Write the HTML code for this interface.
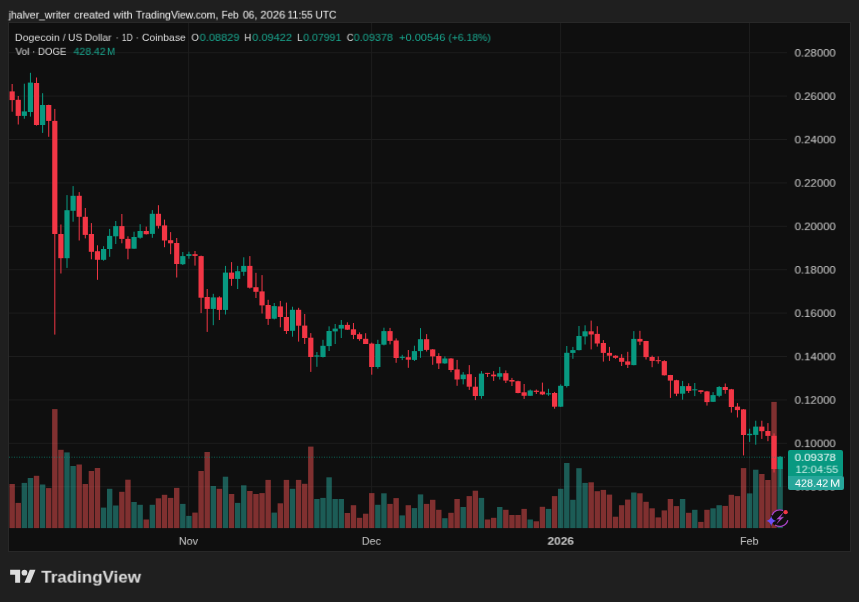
<!DOCTYPE html>
<html><head><meta charset="utf-8"><title>DOGEUSD chart</title>
<style>
html,body{margin:0;padding:0;}
body{width:859px;height:602px;background:#1f1f1f;overflow:hidden;position:relative;font-family:"Liberation Sans",sans-serif;}
.abs{position:absolute;white-space:nowrap;line-height:1;}
.tt{will-change:transform;transform-origin:0 0;}
#chart{position:absolute;left:8px;top:22px;width:841px;height:528px;background:#0f0f0f;border:1px solid #282828;box-sizing:content-box;}
svg#plot{position:absolute;left:0;top:0;}
</style></head><body>
<div id="chart"></div>
<svg id="plot" width="859" height="602" viewBox="0 0 859 602">
<rect x="9" y="52.20" width="778" height="1" fill="#1d1d1d"/>
<rect x="9" y="95.60" width="778" height="1" fill="#1d1d1d"/>
<rect x="9" y="139.00" width="778" height="1" fill="#1d1d1d"/>
<rect x="9" y="182.40" width="778" height="1" fill="#1d1d1d"/>
<rect x="9" y="225.80" width="778" height="1" fill="#1d1d1d"/>
<rect x="9" y="269.20" width="778" height="1" fill="#1d1d1d"/>
<rect x="9" y="312.60" width="778" height="1" fill="#1d1d1d"/>
<rect x="9" y="356.00" width="778" height="1" fill="#1d1d1d"/>
<rect x="9" y="399.40" width="778" height="1" fill="#1d1d1d"/>
<rect x="9" y="442.80" width="778" height="1" fill="#1d1d1d"/>
<rect x="9" y="486.20" width="778" height="1" fill="#1d1d1d"/>
<rect x="188.10" y="23" width="1" height="505" fill="#1d1d1d"/>
<rect x="371.10" y="23" width="1" height="505" fill="#1d1d1d"/>
<rect x="560.10" y="23" width="1" height="505" fill="#1d1d1d"/>
<rect x="749.00" y="23" width="1" height="505" fill="#1d1d1d"/>
<rect x="9.45" y="484.0" width="5.4" height="44.1" fill="rgba(241,81,81,0.5)"/>
<rect x="15.55" y="502.9" width="5.4" height="25.2" fill="rgba(241,81,81,0.5)"/>
<rect x="21.64" y="482.9" width="5.4" height="45.2" fill="rgba(41,169,157,0.5)"/>
<rect x="27.74" y="478.0" width="5.4" height="50.1" fill="rgba(41,169,157,0.5)"/>
<rect x="33.83" y="475.8" width="5.4" height="52.3" fill="rgba(241,81,81,0.5)"/>
<rect x="39.92" y="484.5" width="5.4" height="43.6" fill="rgba(41,169,157,0.5)"/>
<rect x="46.02" y="488.1" width="5.4" height="40.0" fill="rgba(241,81,81,0.5)"/>
<rect x="52.11" y="409.1" width="5.4" height="119.0" fill="rgba(241,81,81,0.5)"/>
<rect x="58.21" y="449.8" width="5.4" height="78.3" fill="rgba(241,81,81,0.5)"/>
<rect x="64.30" y="452.4" width="5.4" height="75.7" fill="rgba(41,169,157,0.5)"/>
<rect x="70.40" y="466.0" width="5.4" height="62.1" fill="rgba(41,169,157,0.5)"/>
<rect x="76.50" y="464.5" width="5.4" height="63.6" fill="rgba(241,81,81,0.5)"/>
<rect x="82.59" y="484.0" width="5.4" height="44.1" fill="rgba(241,81,81,0.5)"/>
<rect x="88.69" y="471.0" width="5.4" height="57.1" fill="rgba(241,81,81,0.5)"/>
<rect x="94.78" y="468.0" width="5.4" height="60.1" fill="rgba(241,81,81,0.5)"/>
<rect x="100.88" y="507.6" width="5.4" height="20.5" fill="rgba(41,169,157,0.5)"/>
<rect x="106.97" y="488.8" width="5.4" height="39.3" fill="rgba(41,169,157,0.5)"/>
<rect x="113.06" y="505.5" width="5.4" height="22.6" fill="rgba(41,169,157,0.5)"/>
<rect x="119.16" y="491.8" width="5.4" height="36.3" fill="rgba(241,81,81,0.5)"/>
<rect x="125.25" y="479.7" width="5.4" height="48.4" fill="rgba(241,81,81,0.5)"/>
<rect x="131.35" y="502.0" width="5.4" height="26.1" fill="rgba(41,169,157,0.5)"/>
<rect x="137.44" y="504.8" width="5.4" height="23.3" fill="rgba(41,169,157,0.5)"/>
<rect x="143.54" y="519.5" width="5.4" height="8.6" fill="rgba(241,81,81,0.5)"/>
<rect x="149.64" y="504.8" width="5.4" height="23.3" fill="rgba(41,169,157,0.5)"/>
<rect x="155.73" y="498.3" width="5.4" height="29.8" fill="rgba(241,81,81,0.5)"/>
<rect x="161.83" y="494.8" width="5.4" height="33.3" fill="rgba(241,81,81,0.5)"/>
<rect x="167.92" y="497.9" width="5.4" height="30.2" fill="rgba(241,81,81,0.5)"/>
<rect x="174.02" y="487.9" width="5.4" height="40.2" fill="rgba(241,81,81,0.5)"/>
<rect x="180.11" y="503.9" width="5.4" height="24.2" fill="rgba(41,169,157,0.5)"/>
<rect x="186.21" y="515.9" width="5.4" height="12.2" fill="rgba(41,169,157,0.5)"/>
<rect x="192.30" y="512.6" width="5.4" height="15.5" fill="rgba(241,81,81,0.5)"/>
<rect x="198.40" y="471.0" width="5.4" height="57.1" fill="rgba(241,81,81,0.5)"/>
<rect x="204.49" y="452.0" width="5.4" height="76.1" fill="rgba(241,81,81,0.5)"/>
<rect x="210.59" y="486.0" width="5.4" height="42.1" fill="rgba(41,169,157,0.5)"/>
<rect x="216.68" y="488.8" width="5.4" height="39.3" fill="rgba(241,81,81,0.5)"/>
<rect x="222.78" y="476.7" width="5.4" height="51.4" fill="rgba(41,169,157,0.5)"/>
<rect x="228.87" y="494.0" width="5.4" height="34.1" fill="rgba(241,81,81,0.5)"/>
<rect x="234.97" y="502.9" width="5.4" height="25.2" fill="rgba(41,169,157,0.5)"/>
<rect x="241.06" y="485.3" width="5.4" height="42.8" fill="rgba(41,169,157,0.5)"/>
<rect x="247.16" y="491.0" width="5.4" height="37.1" fill="rgba(241,81,81,0.5)"/>
<rect x="253.25" y="494.0" width="5.4" height="34.1" fill="rgba(241,81,81,0.5)"/>
<rect x="259.34" y="493.1" width="5.4" height="35.0" fill="rgba(241,81,81,0.5)"/>
<rect x="265.44" y="479.9" width="5.4" height="48.2" fill="rgba(241,81,81,0.5)"/>
<rect x="271.53" y="512.6" width="5.4" height="15.5" fill="rgba(41,169,157,0.5)"/>
<rect x="277.63" y="503.3" width="5.4" height="24.8" fill="rgba(241,81,81,0.5)"/>
<rect x="283.72" y="479.9" width="5.4" height="48.2" fill="rgba(241,81,81,0.5)"/>
<rect x="289.82" y="488.8" width="5.4" height="39.3" fill="rgba(41,169,157,0.5)"/>
<rect x="295.91" y="479.9" width="5.4" height="48.2" fill="rgba(241,81,81,0.5)"/>
<rect x="302.01" y="483.8" width="5.4" height="44.3" fill="rgba(241,81,81,0.5)"/>
<rect x="308.10" y="446.6" width="5.4" height="81.5" fill="rgba(241,81,81,0.5)"/>
<rect x="314.20" y="499.0" width="5.4" height="29.1" fill="rgba(41,169,157,0.5)"/>
<rect x="320.29" y="497.9" width="5.4" height="30.2" fill="rgba(41,169,157,0.5)"/>
<rect x="326.39" y="477.3" width="5.4" height="50.8" fill="rgba(41,169,157,0.5)"/>
<rect x="332.48" y="499.0" width="5.4" height="29.1" fill="rgba(41,169,157,0.5)"/>
<rect x="338.58" y="499.0" width="5.4" height="29.1" fill="rgba(41,169,157,0.5)"/>
<rect x="344.67" y="513.0" width="5.4" height="15.1" fill="rgba(241,81,81,0.5)"/>
<rect x="350.77" y="505.2" width="5.4" height="22.9" fill="rgba(241,81,81,0.5)"/>
<rect x="356.86" y="517.8" width="5.4" height="10.3" fill="rgba(241,81,81,0.5)"/>
<rect x="362.96" y="513.7" width="5.4" height="14.4" fill="rgba(241,81,81,0.5)"/>
<rect x="369.05" y="493.1" width="5.4" height="35.0" fill="rgba(241,81,81,0.5)"/>
<rect x="375.15" y="504.8" width="5.4" height="23.3" fill="rgba(41,169,157,0.5)"/>
<rect x="381.24" y="493.3" width="5.4" height="34.8" fill="rgba(41,169,157,0.5)"/>
<rect x="387.34" y="503.9" width="5.4" height="24.2" fill="rgba(241,81,81,0.5)"/>
<rect x="393.43" y="498.1" width="5.4" height="30.0" fill="rgba(241,81,81,0.5)"/>
<rect x="399.53" y="515.4" width="5.4" height="12.7" fill="rgba(41,169,157,0.5)"/>
<rect x="405.62" y="505.2" width="5.4" height="22.9" fill="rgba(241,81,81,0.5)"/>
<rect x="411.72" y="508.1" width="5.4" height="20.0" fill="rgba(41,169,157,0.5)"/>
<rect x="417.81" y="494.4" width="5.4" height="33.7" fill="rgba(41,169,157,0.5)"/>
<rect x="423.91" y="503.9" width="5.4" height="24.2" fill="rgba(241,81,81,0.5)"/>
<rect x="430.00" y="499.8" width="5.4" height="28.3" fill="rgba(241,81,81,0.5)"/>
<rect x="436.10" y="509.8" width="5.4" height="18.3" fill="rgba(241,81,81,0.5)"/>
<rect x="442.19" y="518.2" width="5.4" height="9.9" fill="rgba(41,169,157,0.5)"/>
<rect x="448.29" y="512.8" width="5.4" height="15.3" fill="rgba(241,81,81,0.5)"/>
<rect x="454.38" y="499.0" width="5.4" height="29.1" fill="rgba(241,81,81,0.5)"/>
<rect x="460.48" y="507.0" width="5.4" height="21.1" fill="rgba(41,169,157,0.5)"/>
<rect x="466.57" y="496.1" width="5.4" height="32.0" fill="rgba(241,81,81,0.5)"/>
<rect x="472.67" y="490.7" width="5.4" height="37.4" fill="rgba(241,81,81,0.5)"/>
<rect x="478.76" y="497.9" width="5.4" height="30.2" fill="rgba(41,169,157,0.5)"/>
<rect x="484.86" y="519.5" width="5.4" height="8.6" fill="rgba(241,81,81,0.5)"/>
<rect x="490.95" y="517.8" width="5.4" height="10.3" fill="rgba(241,81,81,0.5)"/>
<rect x="497.05" y="507.0" width="5.4" height="21.1" fill="rgba(41,169,157,0.5)"/>
<rect x="503.14" y="509.8" width="5.4" height="18.3" fill="rgba(241,81,81,0.5)"/>
<rect x="509.24" y="515.0" width="5.4" height="13.1" fill="rgba(241,81,81,0.5)"/>
<rect x="515.33" y="515.0" width="5.4" height="13.1" fill="rgba(241,81,81,0.5)"/>
<rect x="521.43" y="508.9" width="5.4" height="19.2" fill="rgba(241,81,81,0.5)"/>
<rect x="527.52" y="519.5" width="5.4" height="8.6" fill="rgba(41,169,157,0.5)"/>
<rect x="533.62" y="521.3" width="5.4" height="6.8" fill="rgba(241,81,81,0.5)"/>
<rect x="539.71" y="506.8" width="5.4" height="21.3" fill="rgba(241,81,81,0.5)"/>
<rect x="545.81" y="508.9" width="5.4" height="19.2" fill="rgba(41,169,157,0.5)"/>
<rect x="551.90" y="496.1" width="5.4" height="32.0" fill="rgba(241,81,81,0.5)"/>
<rect x="558.00" y="488.8" width="5.4" height="39.3" fill="rgba(41,169,157,0.5)"/>
<rect x="564.09" y="463.0" width="5.4" height="65.1" fill="rgba(41,169,157,0.5)"/>
<rect x="570.19" y="499.8" width="5.4" height="28.3" fill="rgba(41,169,157,0.5)"/>
<rect x="576.28" y="468.2" width="5.4" height="59.9" fill="rgba(41,169,157,0.5)"/>
<rect x="582.38" y="482.9" width="5.4" height="45.2" fill="rgba(41,169,157,0.5)"/>
<rect x="588.47" y="482.3" width="5.4" height="45.8" fill="rgba(241,81,81,0.5)"/>
<rect x="594.57" y="491.2" width="5.4" height="36.9" fill="rgba(241,81,81,0.5)"/>
<rect x="600.66" y="489.9" width="5.4" height="38.2" fill="rgba(241,81,81,0.5)"/>
<rect x="606.76" y="494.6" width="5.4" height="33.5" fill="rgba(241,81,81,0.5)"/>
<rect x="612.85" y="516.7" width="5.4" height="11.4" fill="rgba(241,81,81,0.5)"/>
<rect x="618.95" y="505.2" width="5.4" height="22.9" fill="rgba(241,81,81,0.5)"/>
<rect x="625.04" y="499.6" width="5.4" height="28.5" fill="rgba(241,81,81,0.5)"/>
<rect x="631.14" y="492.5" width="5.4" height="35.6" fill="rgba(41,169,157,0.5)"/>
<rect x="637.23" y="493.3" width="5.4" height="34.8" fill="rgba(241,81,81,0.5)"/>
<rect x="643.33" y="501.8" width="5.4" height="26.3" fill="rgba(241,81,81,0.5)"/>
<rect x="649.42" y="508.3" width="5.4" height="19.8" fill="rgba(241,81,81,0.5)"/>
<rect x="655.52" y="517.4" width="5.4" height="10.7" fill="rgba(241,81,81,0.5)"/>
<rect x="661.61" y="510.4" width="5.4" height="17.7" fill="rgba(241,81,81,0.5)"/>
<rect x="667.71" y="499.0" width="5.4" height="29.1" fill="rgba(241,81,81,0.5)"/>
<rect x="673.80" y="506.1" width="5.4" height="22.0" fill="rgba(241,81,81,0.5)"/>
<rect x="679.90" y="499.0" width="5.4" height="29.1" fill="rgba(41,169,157,0.5)"/>
<rect x="685.99" y="512.8" width="5.4" height="15.3" fill="rgba(241,81,81,0.5)"/>
<rect x="692.09" y="509.8" width="5.4" height="18.3" fill="rgba(41,169,157,0.5)"/>
<rect x="698.18" y="521.9" width="5.4" height="6.2" fill="rgba(241,81,81,0.5)"/>
<rect x="704.28" y="509.8" width="5.4" height="18.3" fill="rgba(241,81,81,0.5)"/>
<rect x="710.37" y="508.3" width="5.4" height="19.8" fill="rgba(41,169,157,0.5)"/>
<rect x="716.47" y="505.2" width="5.4" height="22.9" fill="rgba(41,169,157,0.5)"/>
<rect x="722.56" y="505.9" width="5.4" height="22.2" fill="rgba(241,81,81,0.5)"/>
<rect x="728.66" y="494.8" width="5.4" height="33.3" fill="rgba(241,81,81,0.5)"/>
<rect x="734.75" y="496.1" width="5.4" height="32.0" fill="rgba(241,81,81,0.5)"/>
<rect x="740.85" y="468.1" width="5.4" height="60.0" fill="rgba(241,81,81,0.5)"/>
<rect x="746.94" y="493.4" width="5.4" height="34.7" fill="rgba(41,169,157,0.5)"/>
<rect x="753.04" y="469.7" width="5.4" height="58.4" fill="rgba(41,169,157,0.5)"/>
<rect x="759.13" y="474.0" width="5.4" height="54.1" fill="rgba(241,81,81,0.5)"/>
<rect x="765.23" y="480.0" width="5.4" height="48.1" fill="rgba(241,81,81,0.5)"/>
<rect x="771.32" y="401.9" width="5.4" height="126.2" fill="rgba(241,81,81,0.5)"/>
<rect x="777.42" y="456.6" width="5.4" height="71.5" fill="rgba(41,169,157,0.5)"/>
<rect x="11.65" y="84.0" width="1" height="27.7" fill="#f23645"/>
<rect x="9.55" y="91.4" width="5.2" height="8.7" fill="#f23645"/>
<rect x="17.75" y="96.0" width="1" height="28.5" fill="#f23645"/>
<rect x="15.65" y="99.8" width="5.2" height="16.1" fill="#f23645"/>
<rect x="23.84" y="83.7" width="1" height="35.0" fill="#089981"/>
<rect x="21.74" y="111.4" width="5.2" height="4.5" fill="#089981"/>
<rect x="29.94" y="72.8" width="1" height="43.8" fill="#089981"/>
<rect x="27.84" y="82.6" width="5.2" height="29.4" fill="#089981"/>
<rect x="36.03" y="77.5" width="1" height="48.1" fill="#f23645"/>
<rect x="33.93" y="83.0" width="5.2" height="42.0" fill="#f23645"/>
<rect x="42.12" y="93.2" width="1" height="39.7" fill="#089981"/>
<rect x="40.02" y="105.0" width="5.2" height="20.0" fill="#089981"/>
<rect x="48.22" y="104.7" width="1" height="32.1" fill="#f23645"/>
<rect x="46.12" y="105.0" width="5.2" height="15.9" fill="#f23645"/>
<rect x="54.31" y="108.9" width="1" height="225.7" fill="#f23645"/>
<rect x="52.21" y="120.9" width="5.2" height="113.1" fill="#f23645"/>
<rect x="60.41" y="224.5" width="1" height="49.0" fill="#f23645"/>
<rect x="58.31" y="234.0" width="5.2" height="24.2" fill="#f23645"/>
<rect x="66.50" y="195.1" width="1" height="72.8" fill="#089981"/>
<rect x="64.41" y="210.2" width="5.2" height="48.0" fill="#089981"/>
<rect x="72.60" y="186.1" width="1" height="35.6" fill="#089981"/>
<rect x="70.50" y="195.8" width="5.2" height="15.0" fill="#089981"/>
<rect x="78.70" y="192.1" width="1" height="48.4" fill="#f23645"/>
<rect x="76.60" y="195.8" width="5.2" height="21.0" fill="#f23645"/>
<rect x="84.79" y="208.0" width="1" height="30.4" fill="#f23645"/>
<rect x="82.69" y="216.8" width="5.2" height="18.1" fill="#f23645"/>
<rect x="90.89" y="223.1" width="1" height="36.2" fill="#f23645"/>
<rect x="88.79" y="234.0" width="5.2" height="17.8" fill="#f23645"/>
<rect x="96.98" y="245.3" width="1" height="34.5" fill="#f23645"/>
<rect x="94.88" y="251.2" width="5.2" height="8.6" fill="#f23645"/>
<rect x="103.08" y="246.2" width="1" height="14.5" fill="#089981"/>
<rect x="100.98" y="249.0" width="5.2" height="10.8" fill="#089981"/>
<rect x="109.17" y="228.9" width="1" height="27.9" fill="#089981"/>
<rect x="107.07" y="235.9" width="5.2" height="13.1" fill="#089981"/>
<rect x="115.27" y="221.0" width="1" height="23.0" fill="#089981"/>
<rect x="113.17" y="226.1" width="5.2" height="10.2" fill="#089981"/>
<rect x="121.36" y="214.0" width="1" height="29.3" fill="#f23645"/>
<rect x="119.26" y="226.1" width="5.2" height="12.8" fill="#f23645"/>
<rect x="127.45" y="236.3" width="1" height="23.0" fill="#f23645"/>
<rect x="125.36" y="238.9" width="5.2" height="9.8" fill="#f23645"/>
<rect x="133.55" y="231.7" width="1" height="17.0" fill="#089981"/>
<rect x="131.45" y="237.0" width="5.2" height="11.7" fill="#089981"/>
<rect x="139.64" y="224.2" width="1" height="14.5" fill="#089981"/>
<rect x="137.54" y="231.0" width="5.2" height="6.7" fill="#089981"/>
<rect x="145.74" y="226.6" width="1" height="7.9" fill="#f23645"/>
<rect x="143.64" y="231.0" width="5.2" height="3.2" fill="#f23645"/>
<rect x="151.84" y="210.1" width="1" height="27.7" fill="#089981"/>
<rect x="149.74" y="213.8" width="5.2" height="20.1" fill="#089981"/>
<rect x="157.93" y="205.2" width="1" height="23.3" fill="#f23645"/>
<rect x="155.83" y="213.8" width="5.2" height="12.0" fill="#f23645"/>
<rect x="164.03" y="219.6" width="1" height="27.6" fill="#f23645"/>
<rect x="161.93" y="225.4" width="5.2" height="15.1" fill="#f23645"/>
<rect x="170.12" y="232.1" width="1" height="22.1" fill="#f23645"/>
<rect x="168.02" y="240.2" width="5.2" height="3.1" fill="#f23645"/>
<rect x="176.22" y="238.0" width="1" height="39.5" fill="#f23645"/>
<rect x="174.12" y="243.0" width="5.2" height="21.0" fill="#f23645"/>
<rect x="182.31" y="252.0" width="1" height="13.0" fill="#089981"/>
<rect x="180.21" y="256.1" width="5.2" height="8.1" fill="#089981"/>
<rect x="188.41" y="251.7" width="1" height="7.0" fill="#089981"/>
<rect x="186.31" y="254.2" width="5.2" height="1.7" fill="#089981"/>
<rect x="194.50" y="251.0" width="1" height="14.6" fill="#f23645"/>
<rect x="192.40" y="254.2" width="5.2" height="1.7" fill="#f23645"/>
<rect x="200.59" y="255.6" width="1" height="57.5" fill="#f23645"/>
<rect x="198.50" y="256.1" width="5.2" height="41.6" fill="#f23645"/>
<rect x="206.69" y="289.0" width="1" height="42.9" fill="#f23645"/>
<rect x="204.59" y="297.0" width="5.2" height="11.9" fill="#f23645"/>
<rect x="212.78" y="293.8" width="1" height="31.4" fill="#089981"/>
<rect x="210.69" y="297.4" width="5.2" height="11.5" fill="#089981"/>
<rect x="218.88" y="296.3" width="1" height="23.7" fill="#f23645"/>
<rect x="216.78" y="297.4" width="5.2" height="12.5" fill="#f23645"/>
<rect x="224.97" y="265.9" width="1" height="48.6" fill="#089981"/>
<rect x="222.88" y="272.6" width="5.2" height="37.3" fill="#089981"/>
<rect x="231.07" y="262.1" width="1" height="23.7" fill="#f23645"/>
<rect x="228.97" y="272.6" width="5.2" height="6.3" fill="#f23645"/>
<rect x="237.16" y="265.9" width="1" height="23.1" fill="#089981"/>
<rect x="235.06" y="271.2" width="5.2" height="7.7" fill="#089981"/>
<rect x="243.26" y="257.3" width="1" height="18.5" fill="#089981"/>
<rect x="241.16" y="265.9" width="5.2" height="5.9" fill="#089981"/>
<rect x="249.35" y="256.1" width="1" height="32.5" fill="#f23645"/>
<rect x="247.25" y="265.9" width="5.2" height="21.8" fill="#f23645"/>
<rect x="255.45" y="272.8" width="1" height="25.2" fill="#f23645"/>
<rect x="253.35" y="287.2" width="5.2" height="4.6" fill="#f23645"/>
<rect x="261.54" y="275.1" width="1" height="38.4" fill="#f23645"/>
<rect x="259.44" y="291.4" width="5.2" height="14.0" fill="#f23645"/>
<rect x="267.64" y="299.8" width="1" height="25.1" fill="#f23645"/>
<rect x="265.54" y="305.0" width="5.2" height="13.9" fill="#f23645"/>
<rect x="273.73" y="303.0" width="1" height="16.4" fill="#089981"/>
<rect x="271.63" y="306.1" width="5.2" height="12.6" fill="#089981"/>
<rect x="279.83" y="300.9" width="1" height="26.4" fill="#f23645"/>
<rect x="277.73" y="306.4" width="5.2" height="10.6" fill="#f23645"/>
<rect x="285.92" y="302.6" width="1" height="31.4" fill="#f23645"/>
<rect x="283.82" y="317.0" width="5.2" height="14.0" fill="#f23645"/>
<rect x="292.02" y="306.7" width="1" height="30.0" fill="#089981"/>
<rect x="289.92" y="309.8" width="5.2" height="21.0" fill="#089981"/>
<rect x="298.11" y="307.8" width="1" height="33.8" fill="#f23645"/>
<rect x="296.01" y="309.8" width="5.2" height="15.9" fill="#f23645"/>
<rect x="304.21" y="314.0" width="1" height="30.0" fill="#f23645"/>
<rect x="302.11" y="325.6" width="5.2" height="12.4" fill="#f23645"/>
<rect x="310.30" y="333.1" width="1" height="38.8" fill="#f23645"/>
<rect x="308.20" y="337.7" width="5.2" height="19.3" fill="#f23645"/>
<rect x="316.40" y="352.0" width="1" height="14.8" fill="#089981"/>
<rect x="314.30" y="355.4" width="5.2" height="1.2" fill="#089981"/>
<rect x="322.49" y="339.8" width="1" height="17.7" fill="#089981"/>
<rect x="320.39" y="345.8" width="5.2" height="11.2" fill="#089981"/>
<rect x="328.59" y="326.3" width="1" height="24.7" fill="#089981"/>
<rect x="326.49" y="331.0" width="5.2" height="15.1" fill="#089981"/>
<rect x="334.68" y="324.0" width="1" height="20.0" fill="#089981"/>
<rect x="332.58" y="328.6" width="5.2" height="2.8" fill="#089981"/>
<rect x="340.78" y="320.0" width="1" height="18.0" fill="#089981"/>
<rect x="338.68" y="324.9" width="5.2" height="3.7" fill="#089981"/>
<rect x="346.87" y="322.3" width="1" height="7.7" fill="#f23645"/>
<rect x="344.77" y="324.9" width="5.2" height="4.8" fill="#f23645"/>
<rect x="352.97" y="323.0" width="1" height="16.1" fill="#f23645"/>
<rect x="350.87" y="329.3" width="5.2" height="5.6" fill="#f23645"/>
<rect x="359.06" y="332.4" width="1" height="8.4" fill="#f23645"/>
<rect x="356.96" y="334.2" width="5.2" height="4.9" fill="#f23645"/>
<rect x="365.16" y="333.2" width="1" height="10.8" fill="#f23645"/>
<rect x="363.06" y="338.8" width="5.2" height="5.2" fill="#f23645"/>
<rect x="371.25" y="342.6" width="1" height="32.1" fill="#f23645"/>
<rect x="369.15" y="343.6" width="5.2" height="23.4" fill="#f23645"/>
<rect x="377.35" y="339.8" width="1" height="28.9" fill="#089981"/>
<rect x="375.25" y="344.0" width="5.2" height="23.0" fill="#089981"/>
<rect x="383.44" y="327.7" width="1" height="17.7" fill="#089981"/>
<rect x="381.34" y="331.1" width="5.2" height="13.6" fill="#089981"/>
<rect x="389.54" y="327.9" width="1" height="16.5" fill="#f23645"/>
<rect x="387.44" y="331.1" width="5.2" height="9.8" fill="#f23645"/>
<rect x="395.63" y="338.4" width="1" height="24.4" fill="#f23645"/>
<rect x="393.53" y="340.5" width="5.2" height="17.5" fill="#f23645"/>
<rect x="401.73" y="354.8" width="1" height="5.3" fill="#089981"/>
<rect x="399.63" y="356.7" width="5.2" height="1.2" fill="#089981"/>
<rect x="407.82" y="350.0" width="1" height="17.8" fill="#f23645"/>
<rect x="405.72" y="357.2" width="5.2" height="2.5" fill="#f23645"/>
<rect x="413.92" y="345.7" width="1" height="15.3" fill="#089981"/>
<rect x="411.82" y="351.1" width="5.2" height="8.8" fill="#089981"/>
<rect x="420.01" y="328.1" width="1" height="29.7" fill="#089981"/>
<rect x="417.91" y="339.2" width="5.2" height="11.9" fill="#089981"/>
<rect x="426.11" y="334.1" width="1" height="17.4" fill="#f23645"/>
<rect x="424.01" y="339.2" width="5.2" height="10.7" fill="#f23645"/>
<rect x="432.20" y="349.0" width="1" height="15.8" fill="#f23645"/>
<rect x="430.10" y="349.4" width="5.2" height="7.0" fill="#f23645"/>
<rect x="438.30" y="353.2" width="1" height="15.8" fill="#f23645"/>
<rect x="436.20" y="356.0" width="5.2" height="7.4" fill="#f23645"/>
<rect x="444.39" y="356.4" width="1" height="7.4" fill="#089981"/>
<rect x="442.29" y="358.5" width="5.2" height="4.9" fill="#089981"/>
<rect x="450.49" y="358.1" width="1" height="14.1" fill="#f23645"/>
<rect x="448.39" y="358.5" width="5.2" height="11.5" fill="#f23645"/>
<rect x="456.58" y="359.9" width="1" height="25.9" fill="#f23645"/>
<rect x="454.48" y="369.4" width="5.2" height="10.1" fill="#f23645"/>
<rect x="462.68" y="372.1" width="1" height="12.3" fill="#089981"/>
<rect x="460.58" y="374.6" width="5.2" height="4.6" fill="#089981"/>
<rect x="468.77" y="365.1" width="1" height="24.8" fill="#f23645"/>
<rect x="466.67" y="374.2" width="5.2" height="12.5" fill="#f23645"/>
<rect x="474.87" y="377.0" width="1" height="23.1" fill="#f23645"/>
<rect x="472.77" y="386.7" width="5.2" height="9.3" fill="#f23645"/>
<rect x="480.96" y="371.1" width="1" height="27.6" fill="#089981"/>
<rect x="478.86" y="373.6" width="5.2" height="22.4" fill="#089981"/>
<rect x="487.06" y="372.9" width="1" height="4.1" fill="#f23645"/>
<rect x="484.96" y="372.9" width="5.2" height="1.0" fill="#f23645"/>
<rect x="493.15" y="371.1" width="1" height="9.8" fill="#f23645"/>
<rect x="491.05" y="374.6" width="5.2" height="1.7" fill="#f23645"/>
<rect x="499.25" y="366.9" width="1" height="12.6" fill="#089981"/>
<rect x="497.15" y="373.2" width="5.2" height="3.5" fill="#089981"/>
<rect x="505.34" y="370.4" width="1" height="12.6" fill="#f23645"/>
<rect x="503.24" y="373.2" width="5.2" height="7.4" fill="#f23645"/>
<rect x="511.44" y="377.9" width="1" height="8.1" fill="#f23645"/>
<rect x="509.34" y="380.0" width="5.2" height="1.6" fill="#f23645"/>
<rect x="517.53" y="380.7" width="1" height="12.6" fill="#f23645"/>
<rect x="515.43" y="381.2" width="5.2" height="11.8" fill="#f23645"/>
<rect x="523.63" y="384.0" width="1" height="14.9" fill="#f23645"/>
<rect x="521.53" y="392.3" width="5.2" height="3.5" fill="#f23645"/>
<rect x="529.72" y="389.5" width="1" height="6.3" fill="#089981"/>
<rect x="527.62" y="390.5" width="5.2" height="5.3" fill="#089981"/>
<rect x="535.82" y="389.5" width="1" height="4.5" fill="#f23645"/>
<rect x="533.72" y="390.7" width="5.2" height="1.2" fill="#f23645"/>
<rect x="541.91" y="382.6" width="1" height="12.5" fill="#f23645"/>
<rect x="539.81" y="391.6" width="5.2" height="2.8" fill="#f23645"/>
<rect x="548.01" y="388.8" width="1" height="7.0" fill="#089981"/>
<rect x="545.91" y="393.3" width="5.2" height="1.1" fill="#089981"/>
<rect x="554.10" y="391.9" width="1" height="16.8" fill="#f23645"/>
<rect x="552.00" y="393.0" width="5.2" height="13.7" fill="#f23645"/>
<rect x="560.20" y="384.4" width="1" height="22.6" fill="#089981"/>
<rect x="558.10" y="385.8" width="5.2" height="20.9" fill="#089981"/>
<rect x="566.29" y="346.0" width="1" height="41.5" fill="#089981"/>
<rect x="564.19" y="352.8" width="5.2" height="33.2" fill="#089981"/>
<rect x="572.39" y="346.9" width="1" height="11.9" fill="#089981"/>
<rect x="570.29" y="350.1" width="5.2" height="2.8" fill="#089981"/>
<rect x="578.48" y="326.0" width="1" height="24.4" fill="#089981"/>
<rect x="576.38" y="336.0" width="5.2" height="14.1" fill="#089981"/>
<rect x="584.58" y="325.3" width="1" height="19.2" fill="#089981"/>
<rect x="582.48" y="331.3" width="5.2" height="5.1" fill="#089981"/>
<rect x="590.67" y="320.6" width="1" height="28.8" fill="#f23645"/>
<rect x="588.57" y="331.3" width="5.2" height="3.2" fill="#f23645"/>
<rect x="596.77" y="326.2" width="1" height="20.4" fill="#f23645"/>
<rect x="594.67" y="333.9" width="5.2" height="9.6" fill="#f23645"/>
<rect x="602.87" y="340.1" width="1" height="21.5" fill="#f23645"/>
<rect x="600.76" y="343.0" width="5.2" height="9.9" fill="#f23645"/>
<rect x="608.96" y="346.9" width="1" height="14.0" fill="#f23645"/>
<rect x="606.86" y="352.9" width="5.2" height="2.8" fill="#f23645"/>
<rect x="615.05" y="355.3" width="1" height="3.5" fill="#f23645"/>
<rect x="612.95" y="355.7" width="5.2" height="2.1" fill="#f23645"/>
<rect x="621.15" y="354.2" width="1" height="11.8" fill="#f23645"/>
<rect x="619.05" y="357.8" width="5.2" height="4.0" fill="#f23645"/>
<rect x="627.25" y="351.8" width="1" height="16.2" fill="#f23645"/>
<rect x="625.14" y="361.4" width="5.2" height="3.4" fill="#f23645"/>
<rect x="633.34" y="331.1" width="1" height="34.2" fill="#089981"/>
<rect x="631.24" y="338.9" width="5.2" height="26.2" fill="#089981"/>
<rect x="639.43" y="330.8" width="1" height="14.3" fill="#f23645"/>
<rect x="637.33" y="338.9" width="5.2" height="2.7" fill="#f23645"/>
<rect x="645.53" y="340.9" width="1" height="18.6" fill="#f23645"/>
<rect x="643.43" y="341.0" width="5.2" height="16.1" fill="#f23645"/>
<rect x="651.62" y="355.6" width="1" height="11.6" fill="#f23645"/>
<rect x="649.52" y="357.0" width="5.2" height="3.9" fill="#f23645"/>
<rect x="657.72" y="356.4" width="1" height="7.3" fill="#f23645"/>
<rect x="655.62" y="360.2" width="5.2" height="1.0" fill="#f23645"/>
<rect x="663.81" y="360.2" width="1" height="15.3" fill="#f23645"/>
<rect x="661.71" y="361.1" width="5.2" height="14.2" fill="#f23645"/>
<rect x="669.91" y="374.9" width="1" height="23.0" fill="#f23645"/>
<rect x="667.81" y="375.0" width="5.2" height="5.6" fill="#f23645"/>
<rect x="676.00" y="379.8" width="1" height="16.3" fill="#f23645"/>
<rect x="673.90" y="380.2" width="5.2" height="13.5" fill="#f23645"/>
<rect x="682.10" y="380.9" width="1" height="18.8" fill="#089981"/>
<rect x="680.00" y="386.1" width="5.2" height="7.6" fill="#089981"/>
<rect x="688.19" y="383.3" width="1" height="9.7" fill="#f23645"/>
<rect x="686.09" y="386.1" width="5.2" height="4.8" fill="#f23645"/>
<rect x="694.29" y="383.0" width="1" height="13.1" fill="#089981"/>
<rect x="692.19" y="389.3" width="5.2" height="1.0" fill="#089981"/>
<rect x="700.38" y="390.3" width="1" height="3.4" fill="#f23645"/>
<rect x="698.28" y="390.3" width="5.2" height="1.6" fill="#f23645"/>
<rect x="706.48" y="390.9" width="1" height="14.7" fill="#f23645"/>
<rect x="704.38" y="391.4" width="5.2" height="10.7" fill="#f23645"/>
<rect x="712.57" y="392.1" width="1" height="9.7" fill="#089981"/>
<rect x="710.47" y="395.1" width="5.2" height="6.7" fill="#089981"/>
<rect x="718.67" y="386.1" width="1" height="11.1" fill="#089981"/>
<rect x="716.57" y="387.0" width="5.2" height="8.8" fill="#089981"/>
<rect x="724.76" y="383.5" width="1" height="10.2" fill="#f23645"/>
<rect x="722.66" y="387.0" width="5.2" height="3.0" fill="#f23645"/>
<rect x="730.86" y="388.9" width="1" height="23.7" fill="#f23645"/>
<rect x="728.76" y="389.3" width="5.2" height="17.7" fill="#f23645"/>
<rect x="736.95" y="403.1" width="1" height="14.4" fill="#f23645"/>
<rect x="734.85" y="406.6" width="5.2" height="3.5" fill="#f23645"/>
<rect x="743.05" y="409.1" width="1" height="46.3" fill="#f23645"/>
<rect x="740.95" y="409.4" width="5.2" height="25.6" fill="#f23645"/>
<rect x="749.14" y="428.7" width="1" height="13.2" fill="#089981"/>
<rect x="747.04" y="433.8" width="5.2" height="1.4" fill="#089981"/>
<rect x="755.24" y="420.7" width="1" height="24.0" fill="#089981"/>
<rect x="753.14" y="426.6" width="5.2" height="8.3" fill="#089981"/>
<rect x="761.33" y="420.7" width="1" height="18.2" fill="#f23645"/>
<rect x="759.23" y="426.6" width="5.2" height="4.6" fill="#f23645"/>
<rect x="767.43" y="423.1" width="1" height="18.1" fill="#f23645"/>
<rect x="765.33" y="431.0" width="5.2" height="4.9" fill="#f23645"/>
<rect x="773.52" y="433.4" width="1" height="39.1" fill="#f23645"/>
<rect x="771.42" y="435.8" width="5.2" height="33.2" fill="#f23645"/>
<rect x="779.62" y="456.0" width="1" height="31.0" fill="#089981"/>
<rect x="777.52" y="457.0" width="5.2" height="12.0" fill="#089981"/>
<line x1="9" y1="457.2" x2="786.5" y2="457.2" stroke="#089981" stroke-width="1" stroke-dasharray="1 1.5" opacity="0.6"/>
</svg>
<div class="abs tt" id="t0" style="left:7px;top:9px;font-size:11px;color:#f4f4f4;transform:translate(1.682px,0.781px) scale(0.9379,0.9688);">jhalver_writer</div>
<div class="abs tt" id="t1" style="left:73px;top:9px;font-size:11px;color:#f4f4f4;transform:translate(1.126px,0.781px) scale(0.9743,0.9688);">created</div>
<div class="abs tt" id="t2" style="left:112px;top:9px;font-size:11px;color:#f4f4f4;transform:translate(1.400px,0.781px) scale(0.9789,0.9688);">with</div>
<div class="abs tt" id="t3" style="left:135px;top:9px;font-size:11px;color:#f4f4f4;transform:translate(0.727px,0.781px) scale(0.9512,0.9688);">TradingView.com,</div>
<div class="abs tt" id="t4" style="left:221px;top:9px;font-size:11px;color:#f4f4f4;transform:translate(0.601px,0.781px) scale(0.8985,0.9688);">Feb</div>
<div class="abs tt" id="t5" style="left:242px;top:9px;font-size:11px;color:#f4f4f4;transform:translate(0.831px,0.781px) scale(0.9517,0.9688);">06,</div>
<div class="abs tt" id="t6" style="left:259px;top:9px;font-size:11px;color:#f4f4f4;transform:translate(1.369px,0.781px) scale(1.0263,0.9688);">2026</div>
<div class="abs tt" id="t7" style="left:287px;top:9px;font-size:11px;color:#f4f4f4;transform:translate(0.472px,0.781px) scale(0.9511,0.9688);">11:55</div>
<div class="abs tt" id="t8" style="left:315px;top:9px;font-size:11px;color:#f4f4f4;transform:translate(0.405px,0.781px) scale(0.9225,0.9688);">UTC</div>
<div class="abs tt" id="t9" style="left:14px;top:32px;font-size:10.3px;color:#dedede;transform:translate(0.828px,1.773px) scale(1.0319,0.8943);">Dogecoin</div>
<div class="abs tt" id="t10" style="left:61px;top:32px;font-size:10.3px;color:#dedede;transform:translate(1.800px,1.773px) scale(0.9211,0.8943);">/</div>
<div class="abs tt" id="t11" style="left:67px;top:32px;font-size:10.3px;color:#dedede;transform:translate(1.026px,1.773px) scale(0.9910,0.8943);">US</div>
<div class="abs tt" id="t12" style="left:84px;top:32px;font-size:10.3px;color:#dedede;transform:translate(0.655px,1.773px) scale(0.9961,0.8943);">Dollar</div>
<div class="abs tt" id="t13" style="left:115px;top:32px;font-size:10.3px;color:#dedede;transform:translate(0.579px,1.773px) scale(0.9211,0.8943);">·</div>
<div class="abs tt" id="t14" style="left:121px;top:32px;font-size:10.3px;color:#dedede;transform:translate(0.801px,1.773px) scale(0.8244,0.8943);">1D</div>
<div class="abs tt" id="t15" style="left:135px;top:32px;font-size:10.3px;color:#dedede;transform:translate(0.679px,1.773px) scale(0.9211,0.8943);">·</div>
<div class="abs tt" id="t16" style="left:141px;top:32px;font-size:10.3px;color:#dedede;transform:translate(0.879px,1.773px) scale(1.0075,0.8943);">Coinbase</div>
<div class="abs tt" id="t17" style="left:190px;top:32px;font-size:10.3px;color:#dedede;transform:translate(1.410px,1.773px) scale(0.9211,0.8943);">O</div>
<div class="abs tt" id="t18" style="left:198px;top:32px;font-size:10.3px;color:#1aa890;transform:translate(1.599px,1.773px) scale(1.0713,0.8943);">0.08829</div>
<div class="abs tt" id="t19" style="left:244px;top:32px;font-size:10.3px;color:#dedede;transform:translate(0.303px,1.773px) scale(0.9211,0.8943);">H</div>
<div class="abs tt" id="t20" style="left:251px;top:32px;font-size:10.3px;color:#1aa890;transform:translate(1.199px,1.773px) scale(1.0706,0.8943);">0.09422</div>
<div class="abs tt" id="t21" style="left:296px;top:32px;font-size:10.3px;color:#dedede;transform:translate(1.211px,1.773px) scale(0.9211,0.8943);">L</div>
<div class="abs tt" id="t22" style="left:302px;top:32px;font-size:10.3px;color:#1aa890;transform:translate(1.298px,1.773px) scale(1.0221,0.8943);">0.07991</div>
<div class="abs tt" id="t23" style="left:346px;top:32px;font-size:10.3px;color:#dedede;transform:translate(0.755px,1.773px) scale(0.9211,0.8943);">C</div>
<div class="abs tt" id="t24" style="left:352px;top:32px;font-size:10.3px;color:#1aa890;transform:translate(1.605px,1.773px) scale(1.0587,0.8943);">0.09378</div>
<div class="abs tt" id="t25" style="left:398px;top:32px;font-size:10.3px;color:#1aa890;transform:translate(1.019px,1.773px) scale(1.0720,0.8943);">+0.00546</div>
<div class="abs tt" id="t26" style="left:447px;top:32px;font-size:10.3px;color:#1aa890;transform:translate(1.336px,1.773px) scale(1.0099,0.8943);">(+6.18%)</div>
<div class="abs tt" id="t27" style="left:14px;top:46px;font-size:10.3px;color:#dedede;transform:translate(1.530px,1.773px) scale(0.9729,0.8943);">Vol</div>
<div class="abs tt" id="t28" style="left:32px;top:46px;font-size:10.3px;color:#dedede;transform:translate(0.079px,1.773px) scale(0.9211,0.8943);">·</div>
<div class="abs tt" id="t29" style="left:37px;top:46px;font-size:10.3px;color:#dedede;transform:translate(0.890px,1.773px) scale(0.9384,0.8943);">DOGE</div>
<div class="abs tt" id="t30" style="left:72px;top:46px;font-size:10.3px;color:#1aa890;transform:translate(1.530px,1.773px) scale(1.0159,0.8943);">428.42</div>
<div class="abs tt" id="t31" style="left:106px;top:46px;font-size:10.3px;color:#1aa890;transform:translate(1.103px,1.773px) scale(0.9211,0.8943);">M</div>
<div class="abs tt" id="t32" style="left:793px;top:47px;font-size:10.4px;color:#cfcfcf;transform:translate(1.595px,1.984px) scale(1.0947,0.9415);">0.28000</div>
<div class="abs tt" id="t33" style="left:793px;top:91px;font-size:10.4px;color:#cfcfcf;transform:translate(1.615px,1.384px) scale(1.0942,0.9415);">0.26000</div>
<div class="abs tt" id="t34" style="left:793px;top:134px;font-size:10.4px;color:#cfcfcf;transform:translate(1.570px,1.784px) scale(1.0954,0.9415);">0.24000</div>
<div class="abs tt" id="t35" style="left:793px;top:177px;font-size:10.4px;color:#cfcfcf;transform:translate(1.592px,2.184px) scale(1.0948,0.9415);">0.22000</div>
<div class="abs tt" id="t36" style="left:793px;top:221px;font-size:10.4px;color:#cfcfcf;transform:translate(1.632px,1.584px) scale(1.0937,0.9415);">0.20000</div>
<div class="abs tt" id="t37" style="left:793px;top:264px;font-size:10.4px;color:#cfcfcf;transform:translate(1.595px,1.984px) scale(1.0947,0.9415);">0.18000</div>
<div class="abs tt" id="t38" style="left:793px;top:308px;font-size:10.4px;color:#cfcfcf;transform:translate(1.615px,1.384px) scale(1.0942,0.9415);">0.16000</div>
<div class="abs tt" id="t39" style="left:793px;top:351px;font-size:10.4px;color:#cfcfcf;transform:translate(1.570px,1.784px) scale(1.0954,0.9415);">0.14000</div>
<div class="abs tt" id="t40" style="left:793px;top:394px;font-size:10.4px;color:#cfcfcf;transform:translate(1.592px,2.184px) scale(1.0948,0.9415);">0.12000</div>
<div class="abs tt" id="t41" style="left:793px;top:438px;font-size:10.4px;color:#cfcfcf;transform:translate(1.615px,1.584px) scale(1.0942,0.9415);">0.10000</div>
<div class="abs tt" id="t42" style="left:793px;top:481px;font-size:10.4px;color:#cfcfcf;transform:translate(1.595px,1.984px) scale(1.0947,0.9415);">0.08000</div>
<div class="abs tt" id="t43" style="left:178px;top:535px;font-size:10.6px;color:#cfcfcf;transform:translate(0.780px,1.094px) scale(1.0203,0.9563);">Nov</div>
<div class="abs tt" id="t44" style="left:361px;top:535px;font-size:10.6px;color:#cfcfcf;transform:translate(0.784px,1.094px) scale(1.0157,0.9563);">Dec</div>
<div class="abs tt" id="t45" style="left:546px;top:535px;font-size:10.6px;color:#cccccc;font-weight:bold;transform:translate(1.549px,1.094px) scale(1.1173,0.9563);">2026</div>
<div class="abs tt" id="t46" style="left:740px;top:535px;font-size:10.6px;color:#cfcfcf;transform:translate(0.094px,1.094px) scale(1.0055,0.9563);">Feb</div>
<div class="abs" style="left:788px;top:450px;width:55px;height:26px;background:#089981;border-radius:2px 2px 0 0;"></div>
<div class="abs" style="left:788px;top:476px;width:56px;height:13.8px;background:#26a69a;border-radius:0 2px 2px 2px;"></div>
<div class="abs tt" id="t47" style="left:794px;top:452px;font-size:10.4px;color:#ffffff;transform:translate(0.670px,1.685px) scale(1.0954,0.9164);">0.09378</div>
<div class="abs tt" id="t48" style="left:795px;top:464px;font-size:10.4px;color:#cdeee8;transform:translate(0.386px,1.635px) scale(1.0628,0.9164);">12:04:55</div>
<div class="abs tt" id="t49" style="left:794px;top:477px;font-size:10.4px;color:#ffffff;transform:translate(0.898px,2.435px) scale(1.0455,0.9164);">428.42</div>
<div class="abs tt" id="t50" style="left:830px;top:477px;font-size:10.4px;color:#ffffff;transform:translate(-0.094px,2.435px) scale(1.1940,0.9164);">M</div>
<svg class="abs" style="left:766px;top:508px;" width="26" height="22" viewBox="0 0 26 22">
<circle cx="13.8" cy="10.1" r="8.9" fill="#0f0f0f"/>
<path d="M6.00 7.26 A8.3 8.3 0 0 1 17.31 2.58" fill="none" stroke="#a844c6" stroke-width="1.25"/>
<path d="M21.82 12.25 A8.3 8.3 0 0 1 9.04 16.90" fill="none" stroke="#a844c6" stroke-width="1.25"/>
<path d="M17 5 L10.6 11.3 L13.9 10.9 L10.9 15.6 L17.6 9.1 L14.1 9.5 Z" fill="#b04bcf" stroke="#b04bcf" stroke-width="0.3"/>
<path d="M5.2 7.8 Q5.9 12.2 10.2 13 Q5.9 13.8 5.2 18.2 Q4.5 13.8 0.2 13 Q4.5 12.2 5.2 7.8Z" fill="#6c4ff6"/>
<circle cx="19.6" cy="4.2" r="2.9" fill="#0f0f0f"/>
<circle cx="19.6" cy="4.2" r="2.15" fill="#f23645"/>
</svg>
<svg class="abs" style="left:9.7px;top:567.4px;" width="26" height="20" viewBox="0 0 36 28"><g fill="#dcdcdc"><path d="M14 22H7V11H0V4h14v18zM28 22h-8l7.5-18h8L28 22z"/><circle cx="20" cy="8" r="4"/></g></svg>
<div class="abs tt" id="t51" style="left:40px;top:568px;font-size:16.5px;color:#dcdcdc;font-weight:bold;transform:translate(1.269px,0.833px) scale(1.0294,0.9833);">TradingView</div>
</body></html>
